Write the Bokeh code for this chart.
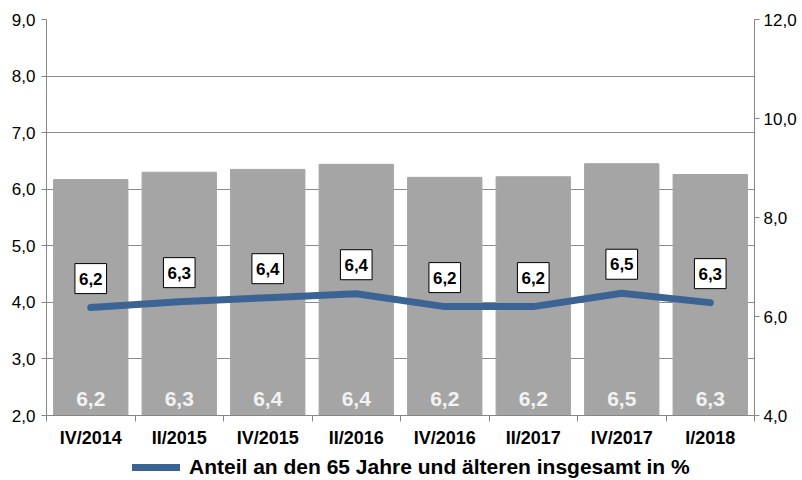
from bokeh.plotting import figure
from bokeh.models import (ColumnDataSource, LinearAxis, Range1d, FixedTicker,
                          LabelSet, Label, Legend, LegendItem)
from bokeh.layouts import column
from bokeh.core.properties import value
from bokeh.embed import file_html
from bokeh.resources import INLINE

categories = ["IV/2014", "II/2015", "IV/2015", "II/2016", "IV/2016", "II/2017", "IV/2017", "I/2018"]
bar_values = [6.17, 6.30, 6.35, 6.44, 6.21, 6.22, 6.45, 6.26]
line_values = [6.18, 6.30, 6.38, 6.46, 6.20, 6.20, 6.47, 6.28]
value_labels = ["6,2", "6,3", "6,4", "6,4", "6,2", "6,2", "6,5", "6,3"]
left_ticks = [2, 3, 4, 5, 6, 7, 8, 9]
right_ticks = [4, 6, 8, 10, 12]
series_name = "Anteil an den 65 Jahre und älteren insgesamt in %"

FONT = "Liberation Sans"
GRID = "#8c8c8c"
AXIS = "#868686"
LINE_COLOR = "#3b6495"

n = len(categories)
xc = [i + 0.5 for i in range(n)]
y0 = left_ticks[0]

src = ColumnDataSource(dict(x=xc, bar=bar_values, line=line_values, lab=value_labels,
                            base=[y0] * n))

p = figure(width=802, height=452, output_backend="svg", toolbar_location=None,
           x_range=Range1d(0, n), y_range=Range1d(left_ticks[0], left_ticks[-1]),
           min_border_left=46, min_border_right=48, min_border_top=19, min_border_bottom=37)
p.extra_y_ranges = {"right": Range1d(right_ticks[0], right_ticks[-1])}
p.outline_line_color = None
p.background_fill_color = "white"

p.vbar(x="x", top="bar", bottom="base", width=0.84, source=src, color="#a5a5a5")
p.line(x="x", y="line", source=src, y_range_name="right", line_color=LINE_COLOR,
       line_width=7, line_cap="round", line_join="round")

# x axis
xa = p.xaxis[0]
xa.ticker = FixedTicker(ticks=xc, minor_ticks=list(range(n + 1)))
xa.major_label_overrides = {x: c for x, c in zip(xc, categories)}
xa.major_tick_out = 0
xa.major_tick_in = 0
xa.minor_tick_out = 6
xa.minor_tick_in = 0
xa.minor_tick_line_color = AXIS
xa.axis_line_color = AXIS
xa.major_label_text_font = FONT
xa.major_label_text_font_style = "bold"
xa.major_label_text_font_size = "18px"
xa.major_label_text_color = "black"
xa.major_label_standoff = 6

# left axis
ya = p.yaxis[0]
ya.ticker = FixedTicker(ticks=left_ticks, minor_ticks=[])
ya.major_label_overrides = {t: f"{t:.1f}".replace(".", ",") for t in left_ticks}
ya.major_tick_out = 5
ya.major_tick_in = 0
ya.major_tick_line_color = AXIS
ya.axis_line_color = AXIS
ya.major_label_text_font = FONT
ya.major_label_text_font_size = "17px"
ya.major_label_text_color = "black"
ya.major_label_standoff = 6

# right axis
ra = LinearAxis(y_range_name="right",
                ticker=FixedTicker(ticks=right_ticks, minor_ticks=[]))
ra.major_label_overrides = {t: f"{t:.1f}".replace(".", ",") for t in right_ticks}
ra.major_tick_out = 5
ra.major_tick_in = 0
ra.major_tick_line_color = AXIS
ra.axis_line_color = AXIS
ra.major_label_text_font = FONT
ra.major_label_text_font_size = "17px"
ra.major_label_text_color = "black"
ra.major_label_standoff = 4
p.add_layout(ra, "right")

p.xgrid.visible = False
p.ygrid.ticker = FixedTicker(ticks=left_ticks)
p.ygrid.grid_line_color = GRID
p.ygrid.grid_line_width = 1

# labels inside bars
p.add_layout(LabelSet(x="x", y="base", text="lab", source=src, text_align="center",
                      text_baseline="middle", y_offset=17, text_color="#f2f2f2",
                      text_font=value(FONT), text_font_style="bold",
                      text_font_size=value("21px")))

# boxed labels above line points
for xv, yv, lab in zip(xc, line_values, value_labels):
    p.add_layout(Label(x=xv, y=yv, text=lab, y_range_name="right",
                       text_align="center", text_baseline="middle", y_offset=29,
                       text_color="black", text_font=FONT, text_font_style="bold",
                       text_font_size="17px", background_fill_color="white",
                       border_line_color="black", border_line_width=1, padding=(4, 9)))

# legend strip below the chart
nan = float("nan")
lg = figure(width=802, height=28, output_backend="svg", toolbar_location=None,
            x_range=Range1d(0, 1), y_range=Range1d(0, 1),
            min_border_left=0, min_border_right=0, min_border_top=0, min_border_bottom=0)
lg.axis.visible = False
lg.grid.visible = False
lg.outline_line_color = None
dummy = lg.line(x=[nan, nan], y=[nan, nan], line_color=LINE_COLOR, line_width=7,
                line_cap="round")
legend = Legend(items=[LegendItem(label=series_name, renderers=[dummy])],
                location=(86, 1), orientation="horizontal",
                label_text_font=FONT, label_text_font_style="bold",
                label_text_font_size="21px", label_text_color="black",
                glyph_width=48, glyph_height=20, label_standoff=9,
                border_line_color=None, background_fill_alpha=0,
                padding=0, margin=0)
lg.add_layout(legend, "center")

layout = column(p, lg, spacing=0)
open("out.html", "w").write(file_html(layout, INLINE))
